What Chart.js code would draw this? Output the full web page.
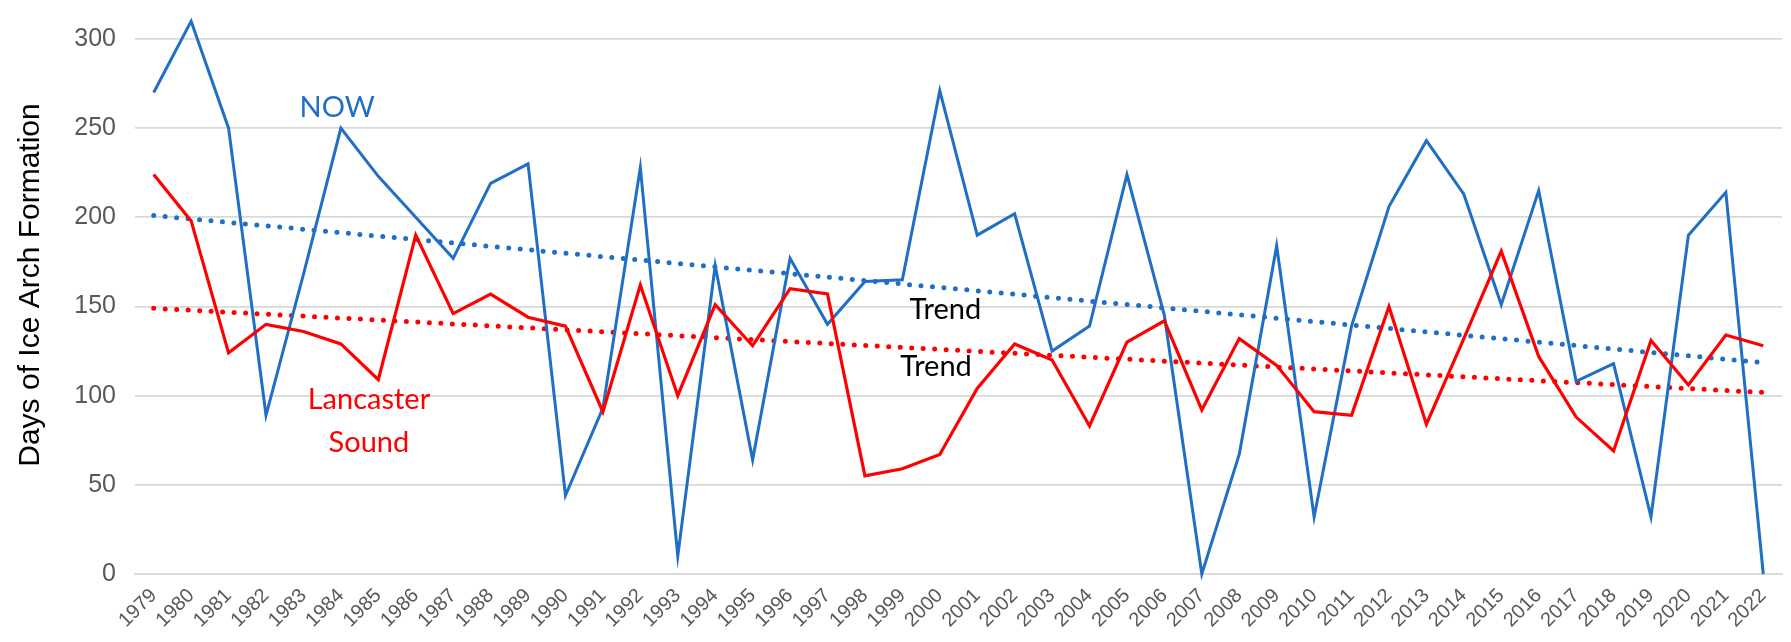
<!DOCTYPE html>
<html>
<head>
<meta charset="utf-8">
<script src="https://cdn.jsdelivr.net/npm/chart.js@4.4.1/dist/chart.umd.min.js"></script>
<style>
  html, body { margin: 0; padding: 0; background: #ffffff; }
  #wrap { width: 1791px; height: 642px; position: relative; }
</style>
</head>
<body>
<div id="wrap"><canvas id="c"></canvas></div>
<script>
// ---- data ----
const years = ['1979','1980','1981','1982','1983','1984','1985','1986','1987','1988','1989',
  '1990','1991','1992','1993','1994','1995','1996','1997','1998','1999','2000','2001','2002',
  '2003','2004','2005','2006','2007','2008','2009','2010','2011','2012','2013','2014','2015',
  '2016','2017','2018','2019','2020','2021','2022'];

const nowDays = [270, 310, 250, 89, 168, 250, 223, 200, 177, 219, 230,
  44, 93, 228, 10, 173, 64, 177, 140, 164, 165, 271, 190, 202,
  125, 139, 224, 145, 0, 67, 184, 32, 139, 206, 243, 213, 151,
  215, 108, 118, 32, 190, 214, 0];

const lancasterDays = [224, 198, 124, 140, 136, 129, 109, 190, 146, 157, 144,
  139, 91, 162, 100, 151, 128, 160, 157, 55, 59, 67, 104, 129,
  120, 83, 130, 142, 92, 132, 117, 91, 89, 150, 84, 132, 181,
  122, 88, 69, 131, 106, 134, 128];

// trend line end values (first and last year)
const nowTrendEnds = [201, 118.5];
const lancasterTrendEnds = [149, 101.8];

const yTicks = [0, 50, 100, 150, 200, 250, 300];

// text annotations: [text, category index, value, colour]
const notes = [
  ['NOW', 4.9, 261.5, '#1f6fc6'],
  ['Lancaster', 5.75, 97.5, '#ff0000'],
  ['Sound', 5.75, 73.5, '#ff0000'],
  ['Trend', 21.15, 148.5, '#000000'],
  ['Trend', 20.9, 116, '#000000']
];

const BLUE = '#1f6fc6';
const RED = '#ff0000';

const notesPlugin = {
  id: 'notes',
  afterDatasetsDraw(chart) {
    const ctx = chart.ctx;
    const xs = chart.scales.x, ys = chart.scales.y;
    ctx.save();
    ctx.font = '29px Lato, "Open Sans", sans-serif';
    ctx.textAlign = 'center';
    ctx.textBaseline = 'middle';
    notes.forEach(([t, xi, v, col]) => {
      const px = xs.left + (xi + 0.5) * (xs.width / years.length);
      ctx.fillStyle = col;
      ctx.fillText(t, px, ys.getPixelForValue(v));
    });
    // y axis title
    ctx.translate(31, 285);
    ctx.rotate(-Math.PI / 2);
    ctx.font = '30px "Liberation Sans", Arial, sans-serif';
    ctx.fillStyle = '#000000';
    ctx.fillText('Days of Ice Arch Formation', 0, 0);
    ctx.restore();
  }
};

new Chart(document.getElementById('c'), {
  type: 'line',
  data: {
    labels: years,
    datasets: [
      {
        label: 'NOW',
        data: nowDays,
        borderColor: BLUE,
        borderWidth: 3,
        pointRadius: 0,
        tension: 0,
        clip: false,
        order: 2
      },
      {
        label: 'Lancaster Sound',
        data: lancasterDays,
        borderColor: RED,
        borderWidth: 3.2,
        pointRadius: 0,
        tension: 0,
        clip: false,
        order: 1
      },
      {
        label: 'NOW trend',
        data: [{x: years[0], y: nowTrendEnds[0]}, {x: years[years.length - 1], y: nowTrendEnds[1]}],
        borderColor: BLUE,
        borderWidth: 5,
        borderDash: [0, 11.5],
        borderCapStyle: 'round',
        pointRadius: 0,
        clip: false,
        order: 3
      },
      {
        label: 'Lancaster trend',
        data: [{x: years[0], y: lancasterTrendEnds[0]}, {x: years[years.length - 1], y: lancasterTrendEnds[1]}],
        borderColor: RED,
        borderWidth: 5,
        borderDash: [0, 11.5],
        borderCapStyle: 'round',
        pointRadius: 0,
        clip: false,
        order: 3
      }
    ]
  },
  options: {
    responsive: true,
    maintainAspectRatio: false,
    devicePixelRatio: 1,
    animation: false,
    layout: { padding: { top: 39, right: 9, left: 0, bottom: 0 } },
    plugins: {
      legend: { display: false },
      tooltip: { enabled: false }
    },
    scales: {
      x: {
        type: 'category',
        offset: true,
        grid: { display: false, drawTicks: false },
        border: { display: true, color: '#d9d9d9', width: 1.8 },
        ticks: {
          autoSkip: false,
          maxRotation: 45,
          minRotation: 45,
          padding: 10,
          color: '#595959',
          font: { family: '"Liberation Sans", Arial, sans-serif', size: 20 }
        },
        afterFit(s) { s.height = 68; }
      },
      y: {
        min: 0,
        max: 300,
        afterBuildTicks(s) { s.ticks = yTicks.map(v => ({ value: v })); },
        grid: { color: '#d9d9d9', lineWidth: 1.8, drawTicks: false },
        border: { display: false },
        ticks: {
          padding: 19,
          color: '#595959',
          font: { family: '"Liberation Sans", Arial, sans-serif', size: 25 }
        },
        afterFit(s) { s.width = 135; }
      }
    }
  },
  plugins: [notesPlugin]
});
</script>
</body>
</html>
